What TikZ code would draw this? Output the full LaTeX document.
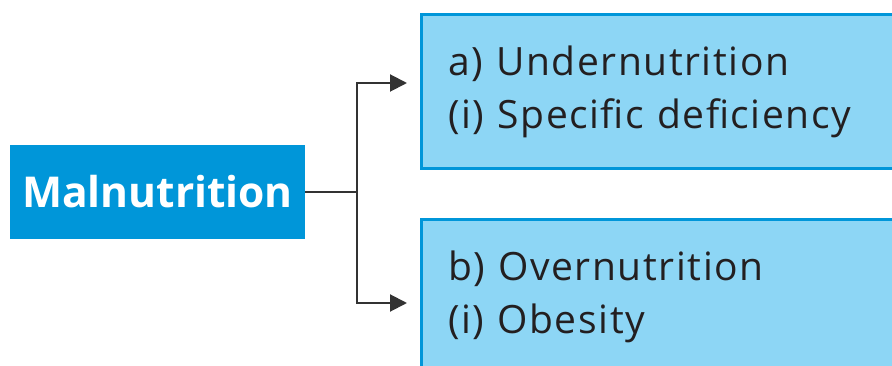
\documentclass[tikz,border=0pt]{standalone}
\usepackage{fontspec}
\setmainfont{Open Sans}
\usetikzlibrary{shapes,arrows,arrows.meta}
\usetikzlibrary{calc}
\definecolor{maldark}{RGB}{0, 150, 217}
\definecolor{mallight}{RGB}{141, 214, 245}
\definecolor{maltext}{RGB}{35, 31, 32}
\definecolor{malline}{RGB}{51, 51, 51}

\begin{document}
\begin{tikzpicture}[x=1pt,y=-1pt]

\tikzstyle{dark_block} = [draw=none, fill=maldark, text=white, font=\fontsize{42.5}{50}\selectfont\bfseries,
minimum width=295, minimum height=94, inner sep=0]
\tikzstyle{light_block} = [draw=maldark, line width=3, fill=mallight, text=maltext,
font=\fontsize{39}{53}\selectfont\addfontfeatures{LetterSpace=4}, anchor=north west, align=left, text width=480,
minimum height=154, inner xsep=27.5, inner ysep=0]
\tikzstyle{branch} = [draw=malline, line width=2]

\useasboundingbox (0,0) rectangle (892,366);

\node [dark_block] (mal) at (157.5,192) {Malnutrition};

\node [light_block] (under) at (419.5,13.5) {a) Undernutrition\\(i) Specific deficiency};
\node [light_block] (over) at (419.5,218.5) {b) Overnutrition\\(i) Obesity};

\coordinate (split) at (357,192);
\coordinate (to_under) at (407,83);
\coordinate (to_over) at (407,303);

\draw[branch] (mal.east) -- (split);
\draw[branch,-{Triangle[length=17,width=17]}] (split) |- (to_under);
\draw[branch,-{Triangle[length=17,width=17]}] (split) |- (to_over);

\end{tikzpicture}
\end{document}
